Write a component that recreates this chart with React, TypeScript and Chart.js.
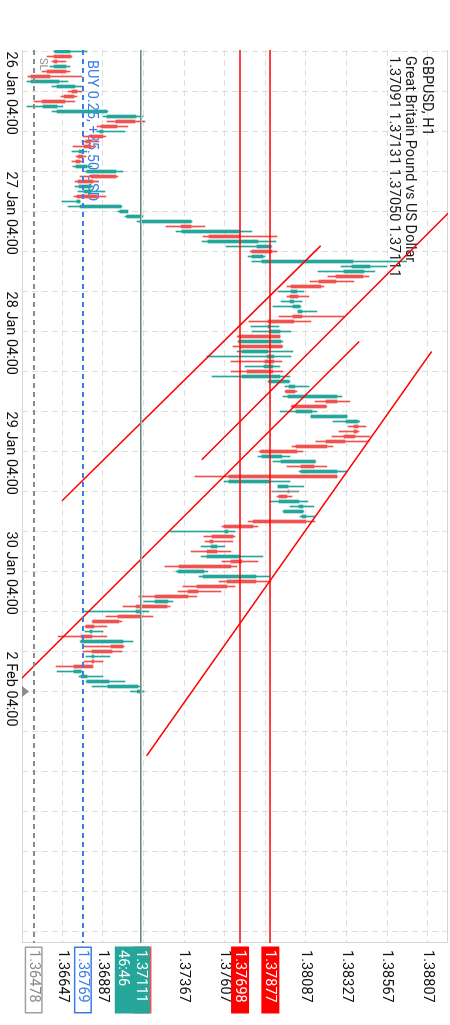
import React, { useEffect, useRef } from 'react';
import { Chart, registerables } from 'chart.js';

Chart.register(...registerables);

// ---------- data ----------
const timeLabelBars = [0, 24, 48, 72, 96, 120];
const timeLabels = ['26 Jan 04:00', '27 Jan 04:00', '28 Jan 04:00', '29 Jan 04:00', '30 Jan 04:00', '2 Feb 04:00'];
const priceTicks = [1.36647, 1.36887, 1.37127, 1.37367, 1.37607, 1.37847, 1.38087, 1.38327, 1.38567, 1.38807];

const opens = [
  1.36604, 1.36698, 1.36616, 1.36598, 1.36669, 1.36574, 1.36462, 1.36616, 1.36734, 1.36716,
  1.36663, 1.36533, 1.36616, 1.36911, 1.37077, 1.36970, 1.36870, 1.36888, 1.36811, 1.36817,
  1.36746, 1.36769, 1.36752, 1.36728, 1.36793, 1.36964, 1.36828, 1.36746, 1.36775, 1.36852,
  1.36734, 1.36752, 1.36988, 1.37029, 1.37106, 1.37408, 1.37354, 1.37697, 1.37508, 1.37798,
  1.37886, 1.37768, 1.37827, 1.38359, 1.38312, 1.38424, 1.38265, 1.38176, 1.37999, 1.38040,
  1.37993, 1.38010, 1.38040, 1.38064, 1.38016, 1.37863, 1.37869, 1.37934, 1.37691, 1.37945,
  1.37709, 1.37857, 1.37898, 1.37839, 1.37892, 1.37709, 1.37869, 1.37987, 1.38022, 1.37981,
  1.38271, 1.38206, 1.38028, 1.38117, 1.38324, 1.38395, 1.38389, 1.38377, 1.38318, 1.38211,
  1.38034, 1.37827, 1.37940, 1.38135, 1.38058, 1.38271, 1.37632, 1.37922, 1.37981, 1.37975,
  1.37928, 1.38046, 1.37957, 1.38064, 1.38087, 1.37774, 1.37609, 1.37656, 1.37538, 1.37526,
  1.37561, 1.37502, 1.37709, 1.37644, 1.37331, 1.37479, 1.37792, 1.37620, 1.37449, 1.37390,
  1.37195, 1.37266, 1.37083, 1.37118, 1.36982, 1.36834, 1.36811, 1.36823, 1.36758, 1.37006,
  1.36941, 1.36823, 1.36834, 1.36828, 1.36716, 1.36758, 1.36793, 1.36917, 1.37091,
];
const highs = [
  1.36793, 1.36704, 1.36669, 1.36693, 1.36693, 1.36763, 1.36681, 1.36769, 1.36763, 1.36734,
  1.36722, 1.36651, 1.36917, 1.37124, 1.37136, 1.37035, 1.37018, 1.36905, 1.36864, 1.36846,
  1.36793, 1.36787, 1.36769, 1.36823, 1.37006, 1.36976, 1.36858, 1.36828, 1.36899, 1.36905,
  1.36752, 1.37000, 1.37035, 1.37124, 1.37414, 1.37490, 1.37768, 1.37916, 1.37910, 1.37886,
  1.37916, 1.37845, 1.38682, 1.38566, 1.38495, 1.38460, 1.38371, 1.38194, 1.38075, 1.38105,
  1.38064, 1.38058, 1.38152, 1.38312, 1.38117, 1.37928, 1.37999, 1.37934, 1.37951, 1.37951,
  1.38010, 1.37999, 1.37945, 1.37934, 1.37951, 1.37993, 1.37993, 1.38105, 1.38034, 1.38300,
  1.38347, 1.38211, 1.38152, 1.38330, 1.38406, 1.38442, 1.38401, 1.38466, 1.38460, 1.38247,
  1.38070, 1.37993, 1.38146, 1.38211, 1.38330, 1.38271, 1.37993, 1.38075, 1.38046, 1.38005,
  1.38099, 1.38135, 1.38075, 1.38141, 1.38141, 1.37804, 1.37668, 1.37668, 1.37656, 1.37609,
  1.37644, 1.37833, 1.37804, 1.37680, 1.37508, 1.37875, 1.37880, 1.37668, 1.37585, 1.37443,
  1.37301, 1.37284, 1.37159, 1.37183, 1.37000, 1.36911, 1.36888, 1.36911, 1.37065, 1.37012,
  1.37000, 1.36929, 1.36888, 1.36828, 1.36769, 1.36888, 1.37018, 1.37106, 1.37131,
];
const lows = [
  1.36598, 1.36557, 1.36586, 1.36574, 1.36527, 1.36444, 1.36438, 1.36586, 1.36681, 1.36639,
  1.36480, 1.36438, 1.36586, 1.36888, 1.36911, 1.36852, 1.36852, 1.36769, 1.36763, 1.36710,
  1.36704, 1.36728, 1.36704, 1.36710, 1.36781, 1.36752, 1.36722, 1.36722, 1.36740, 1.36716,
  1.36645, 1.36681, 1.36976, 1.37018, 1.37089, 1.37260, 1.37319, 1.37479, 1.37473, 1.37615,
  1.37756, 1.37745, 1.37768, 1.38294, 1.38158, 1.38217, 1.38111, 1.37975, 1.37922, 1.37975,
  1.37940, 1.37892, 1.38040, 1.37928, 1.37750, 1.37762, 1.37768, 1.37680, 1.37685, 1.37656,
  1.37680, 1.37502, 1.37644, 1.37727, 1.37644, 1.37532, 1.37863, 1.37963, 1.37963, 1.37951,
  1.38141, 1.37999, 1.37934, 1.38117, 1.38247, 1.38336, 1.38282, 1.38241, 1.38146, 1.38005,
  1.37810, 1.37804, 1.37892, 1.37975, 1.38046, 1.37431, 1.37603, 1.37922, 1.37886, 1.37916,
  1.37875, 1.37993, 1.37951, 1.38052, 1.37745, 1.37591, 1.37284, 1.37484, 1.37490, 1.37467,
  1.37408, 1.37467, 1.37591, 1.37254, 1.37319, 1.37455, 1.37573, 1.37360, 1.37331, 1.37100,
  1.37130, 1.37006, 1.36769, 1.36905, 1.36823, 1.36781, 1.36781, 1.36622, 1.36752, 1.36769,
  1.36769, 1.36787, 1.36775, 1.36610, 1.36616, 1.36746, 1.36787, 1.36823, 1.37050,
];
const closes = [
  1.36693, 1.36598, 1.36598, 1.36669, 1.36557, 1.36462, 1.36628, 1.36722, 1.36704, 1.36657,
  1.36527, 1.36616, 1.36911, 1.37083, 1.36964, 1.36876, 1.36888, 1.36817, 1.36787, 1.36775,
  1.36769, 1.36740, 1.36728, 1.36793, 1.36964, 1.36817, 1.36740, 1.36817, 1.36817, 1.36734,
  1.36752, 1.36994, 1.37035, 1.37118, 1.37408, 1.37349, 1.37697, 1.37514, 1.37804, 1.37880,
  1.37768, 1.37833, 1.38365, 1.38466, 1.38430, 1.38265, 1.38164, 1.37999, 1.38034, 1.37993,
  1.38016, 1.38052, 1.38064, 1.38010, 1.37863, 1.37875, 1.37934, 1.37691, 1.37940, 1.37697,
  1.37863, 1.37898, 1.37845, 1.37892, 1.37739, 1.37934, 1.37987, 1.38022, 1.37969, 1.38271,
  1.38206, 1.38005, 1.38123, 1.38330, 1.38395, 1.38371, 1.38371, 1.38312, 1.38206, 1.38028,
  1.37821, 1.37945, 1.38141, 1.38058, 1.38271, 1.37632, 1.37875, 1.37981, 1.37981, 1.37928,
  1.38046, 1.38070, 1.38070, 1.38087, 1.37774, 1.37603, 1.37626, 1.37532, 1.37520, 1.37561,
  1.37502, 1.37697, 1.37644, 1.37337, 1.37484, 1.37792, 1.37620, 1.37443, 1.37390, 1.37195,
  1.37272, 1.37083, 1.37112, 1.36976, 1.36828, 1.36787, 1.36823, 1.36758, 1.37006, 1.36935,
  1.36823, 1.36834, 1.36823, 1.36716, 1.36758, 1.36793, 1.36923, 1.37094, 1.37111,
];

// trend lines (bar index / price of both ends)
const trendStartBar = [38.86, 31.6, 58.0, 60.0];
const trendStartPrice = [1.38174, 1.3895, 1.38402, 1.3883];
const trendEndBar = [89.86, 81.66, 125.5, 140.86];
const trendEndPrice = [1.36645, 1.37471, 1.36403, 1.37146];

const slPrice = 1.36478;
const buyPrice = 1.36769;
const bidPrice = 1.37111;
const askPrice = 1.37121;
const alertLevels = [1.37698, 1.37877];
const countdown = '46:46';
const titleLines = ['GBPUSD, H1', 'Great Britain Pound vs US Dollar', '1.37091 1.37131 1.37050 1.37111'];
const buyText = 'BUY 0.25, +85.50 USD';
const slText = 'SL';

// ---------- styles ----------
const BULL = '#26a69a';
const BEAR = '#ef5350';
const DOJI = '#8c8c8c';
const GRID = '#dedede';
const FONT = 'Roboto';
const FS = 14.5;
const GRID_STEP = 8;
const X_MIN = -0.3;
const X_MAX = 178.3;
const Y_MIN = 1.36409;
const Y_MAX = 1.38927;

const overlayPlugin = {
  id: 'mtOverlay',
  beforeDatasetsDraw(chart: any) {
    const { ctx, chartArea: a, scales } = chart;
    const y = scales.y;
    ctx.save();
    // frame
    ctx.strokeStyle = '#d6d6d6';
    ctx.lineWidth = 1;
    ctx.beginPath();
    ctx.moveTo(a.left, a.top + 0.5); ctx.lineTo(a.right, a.top + 0.5);
    ctx.moveTo(a.right - 0.5, a.top); ctx.lineTo(a.right - 0.5, a.bottom);
    ctx.moveTo(a.left, a.bottom - 0.5); ctx.lineTo(a.right, a.bottom - 0.5);
    ctx.stroke();
    // title
    ctx.fillStyle = '#1a1a1a';
    ctx.font = `${FS}px ${FONT}`;
    ctx.textAlign = 'left';
    ctx.textBaseline = 'alphabetic';
    const baselines = [25, 41.5, 57.5];
    titleLines.forEach((t, i) => ctx.fillText(t, a.left + 6, a.top + baselines[i]));
    // trade texts
    ctx.fillStyle = '#3b7de8';
    ctx.fillText(buyText, a.left + 10, y.getPixelForValue(buyPrice) - 5);
    ctx.fillStyle = '#8a8a8a';
    ctx.font = `11px ${FONT}`;
    ctx.fillText(slText, a.left + 8, y.getPixelForValue(slPrice) - 6);
    ctx.restore();
  },
  afterDraw(chart: any) {
    const { ctx, chartArea: a, scales } = chart;
    const x = scales.x;
    const y = scales.y;
    ctx.save();
    ctx.beginPath();
    ctx.rect(a.left, a.top, a.right - a.left, a.bottom - a.top);
    ctx.clip();
    const hline = (v: number, color: string, w: number, dash: number[]) => {
      const py = Math.round(y.getPixelForValue(v)) + (w === 1 ? 0.5 : 0);
      ctx.strokeStyle = color;
      ctx.lineWidth = w;
      ctx.setLineDash(dash);
      ctx.beginPath();
      ctx.moveTo(a.left, py);
      ctx.lineTo(a.right, py);
      ctx.stroke();
    };
    hline(slPrice, '#8a8a8a', 2, [5, 4]);
    hline(buyPrice, '#3b7de8', 2, [5, 4]);
    hline(askPrice, '#f0a09e', 1, []);
    hline(bidPrice, BULL, 1, []);
    alertLevels.forEach((v) => hline(v, '#ff0000', 1.5, []));
    ctx.restore();

    // price boxes on axis
    ctx.save();
    ctx.font = `${FS}px ${FONT}`;
    ctx.textAlign = 'left';
    ctx.textBaseline = 'middle';
    const bx = a.right + 3.5;
    const bw = 67;
    const box = (v: number, fill: string, stroke: string | null, tc: string, lines: string[]) => {
      const py = y.getPixelForValue(v);
      const top = py - 9;
      const h = lines.length > 1 ? 35 : 18;
      ctx.fillStyle = fill;
      ctx.fillRect(bx, top, bw, h);
      if (stroke) {
        ctx.strokeStyle = stroke;
        ctx.lineWidth = 1.5;
        ctx.strokeRect(bx + 0.75, top + 0.75, bw - 1.5, h - 1.5);
      }
      ctx.fillStyle = tc;
      lines.forEach((t, k) => ctx.fillText(t, a.right + 7, py + 0.5 + k * 17.5));
    };
    box(slPrice, '#ffffff', '#a0a0a0', '#8a8a8a', [slPrice.toFixed(5)]);
    box(buyPrice, '#ffffff', '#3b7de8', '#3b7de8', [buyPrice.toFixed(5)]);
    box(askPrice, BEAR, null, '#ffffff', ['']);
    box(bidPrice, BULL, null, '#ffffff', [bidPrice.toFixed(5), countdown]);
    alertLevels.forEach((v) => box(v, '#ff0000', null, '#ffffff', [v.toFixed(5)]));

    // current bar marker
    const tx = x.getPixelForValue(opens.length - 1);
    ctx.fillStyle = '#8c8c8c';
    ctx.beginPath();
    ctx.moveTo(tx - 5.5, a.bottom);
    ctx.lineTo(tx + 5.5, a.bottom);
    ctx.lineTo(tx, a.bottom - 7);
    ctx.closePath();
    ctx.fill();
    ctx.restore();
  },
};

export default function App() {
  const ref = useRef<HTMLCanvasElement | null>(null);

  useEffect(() => {
    if (!ref.current) return;
    const idx = opens.map((_, i) => i);
    const colors = idx.map((i) => (closes[i] > opens[i] ? BULL : closes[i] < opens[i] ? BEAR : DOJI));
    const gridBars: number[] = [];
    for (let v = 0; v <= X_MAX; v += GRID_STEP) gridBars.push(v);

    const trendSets = trendStartBar.map((_, i) => ({
      type: 'line' as const,
      data: [
        { x: trendStartBar[i], y: trendStartPrice[i] },
        { x: trendEndBar[i], y: trendEndPrice[i] },
      ],
      borderColor: '#ff0000',
      borderWidth: 1.5,
      pointRadius: 0,
      fill: false,
      tension: 0,
      order: 0,
    }));

    const chart = new Chart(ref.current, {
      type: 'bar',
      data: {
        datasets: [
          {
            type: 'bar',
            data: idx.map((i) => ({ x: i, y: [lows[i], highs[i]] })) as any,
            backgroundColor: colors,
            barThickness: 1,
            grouped: false,
            order: 3,
          },
          {
            type: 'bar',
            data: idx.map((i) => ({ x: i, y: [opens[i], closes[i]] })) as any,
            backgroundColor: colors,
            barThickness: 3,
            minBarLength: 1,
            grouped: false,
            order: 2,
          },
          ...(trendSets as any[]),
        ],
      },
      options: {
        responsive: false,
        maintainAspectRatio: false,
        animation: false,
        devicePixelRatio: 1,
        events: [],
        layout: { padding: { left: 50, top: 2, right: 0, bottom: 0 } },
        plugins: {
          legend: { display: false },
          tooltip: { enabled: false },
          title: { display: false },
        },
        scales: {
          x: {
            type: 'linear',
            position: 'bottom',
            min: X_MIN,
            max: X_MAX,
            offset: false,
            afterBuildTicks: (s: any) => {
              s.ticks = gridBars.map((v) => ({ value: v }));
            },
            afterFit: (s: any) => {
              s.height = 22;
              s.paddingLeft = 0;
              s.paddingRight = 0;
              s.paddingTop = 0;
              s.paddingBottom = 0;
            },
            grid: { color: GRID, lineWidth: 1, drawTicks: false, offset: false },
            border: { display: false, dash: [6, 4] },
            ticks: {
              align: 'start',
              maxRotation: 0,
              minRotation: 0,
              autoSkip: false,
              padding: 3,
              color: '#111111',
              font: { family: FONT, size: FS },
              callback: (v: any) => {
                const k = timeLabelBars.indexOf(Number(v));
                return k >= 0 ? timeLabels[k] : '';
              },
            },
          },
          y: {
            type: 'linear',
            position: 'right',
            min: Y_MIN,
            max: Y_MAX,
            afterBuildTicks: (s: any) => {
              s.ticks = priceTicks.map((v) => ({ value: v }));
            },
            afterFit: (s: any) => {
              s.width = 82;
              s.paddingLeft = 0;
              s.paddingRight = 0;
              s.paddingTop = 0;
              s.paddingBottom = 0;
            },
            grid: { color: GRID, lineWidth: 1, drawTicks: false },
            border: { display: false, dash: [6, 4] },
            ticks: {
              padding: 7,
              color: '#111111',
              font: { family: FONT, size: FS },
              callback: (v: any) => Number(v).toFixed(5),
            },
          },
        },
      } as any,
      plugins: [overlayPlugin],
    });
    return () => chart.destroy();
  }, []);

  return (
    <div
      style={{
        position: 'fixed',
        left: 0,
        top: 0,
        width: 1025,
        height: 450,
        background: '#ffffff',
        transformOrigin: '0 0',
        transform: 'translateX(450px) rotate(90deg)',
      }}
    >
      <canvas ref={ref} width={1025} height={450} style={{ display: 'block', width: 1025, height: 450 }} />
    </div>
  );
}
